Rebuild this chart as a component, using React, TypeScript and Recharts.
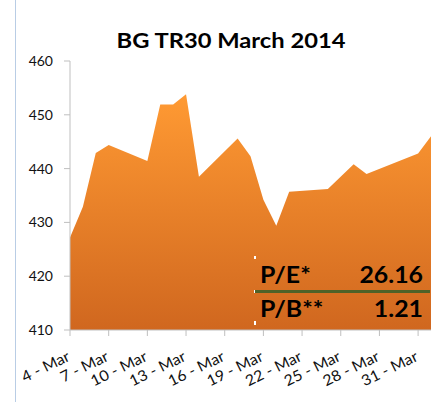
import { AreaChart, Area, XAxis, YAxis } from "recharts";

// trading days of March 2014 (32 = 1-Apr)
const days = [4, 5, 6, 7, 10, 11, 12, 13, 14, 17, 18, 19, 20, 21, 24, 26, 27, 31, 32];
const values = [
  427.2, 432.9, 442.9, 444.4, 441.4, 451.9, 451.9, 453.8, 438.5, 445.6, 442.3, 434.2,
  429.4, 435.7, 436.2, 440.8, 439.0, 442.8, 446.0,
];
const xTicks = [4, 7, 10, 13, 16, 19, 22, 25, 28, 31];
const yTicks = [410, 420, 430, 440, 450, 460];

const data = days.map((d, i) => ({ day: d, value: values[i] }));

const FONT = "Lato, 'Liberation Sans', sans-serif";

function DateTick(props: any) {
  const { x, y, payload } = props;
  const ax = x + 1;
  const ay = y + 22;
  return (
    <text
      transform={`translate(${ax}, ${ay}) rotate(-26) scale(1.06, 1)`}
      textAnchor="end"
      fontSize={15}
      fontFamily={FONT}
      fill="#111"
    >
      {`${payload.value} - Mar`}
    </text>
  );
}

function Stretched({ x, y, anchor, children }: any) {
  return (
    <text transform={`translate(${x}, ${y}) scale(1.13, 1)`} textAnchor={anchor}>
      {children}
    </text>
  );
}

export default function App() {
  return (
    <div style={{ position: "absolute", left: 0, top: 0, width: 438, height: 402, background: "#fff" }}>
      <div
        style={{
          position: "absolute",
          left: 15,
          top: 0,
          width: 1,
          height: 402,
          background: "#B9CDE5",
        }}
      />
      <AreaChart
        width={438}
        height={402}
        data={data}
        margin={{ top: 61, right: 7, bottom: 0, left: 0 }}
        style={{ position: "absolute", left: 0, top: 0 }}
      >
        <defs>
          <linearGradient id="fillOrange" x1="0" y1="0" x2="0" y2="1">
            <stop offset="0%" stopColor="#FF9A33" />
            <stop offset="100%" stopColor="#D0671F" />
          </linearGradient>
        </defs>
        <XAxis
          dataKey="day"
          type="number"
          domain={[4, 32]}
          ticks={xTicks}
          height={72}
          stroke="#BFBFBF"
          tickSize={6}
          tick={<DateTick />}
          interval={0}
        />
        <YAxis
          type="number"
          domain={[410, 460]}
          ticks={yTicks}
          width={70}
          stroke="#BFBFBF"
          tickSize={6}
          tickMargin={11}
          tick={{ fontSize: 14, fill: "#111", fontFamily: FONT }}
          interval={0}
        />
        <Area
          dataKey="value"
          type="linear"
          stroke="none"
          fill="url(#fillOrange)"
          fillOpacity={1}
          baseValue={410}
          isAnimationActive={false}
        />
      </AreaChart>
      <svg
        width={438}
        height={402}
        style={{ position: "absolute", left: 0, top: 0, pointerEvents: "none" }}
      >
        <g fontFamily={FONT} fontWeight={700} fontSize={21} fill="#000">
          <Stretched x={231} y={48} anchor="middle">BG TR30 March 2014</Stretched>
        </g>
        <rect x={254} y={256} width={2} height={3} fill="#fff" />
        <rect x={254} y={290} width={3} height={3} fill="#fff" />
        <rect x={254} y={321} width={2} height={4} fill="#fff" />
        <line x1={255} y1={291.5} x2={430} y2={291.5} stroke="#4F6228" strokeWidth={3} />
        <g fontFamily={FONT} fontWeight={700} fontSize={22} fill="#000">
          <Stretched x={260} y={283} anchor="start">P/E*</Stretched>
          <Stretched x={423} y={283} anchor="end">26.16</Stretched>
          <Stretched x={260} y={317} anchor="start">P/B**</Stretched>
          <Stretched x={423} y={317} anchor="end">1.21</Stretched>
        </g>
      </svg>
    </div>
  );
}
